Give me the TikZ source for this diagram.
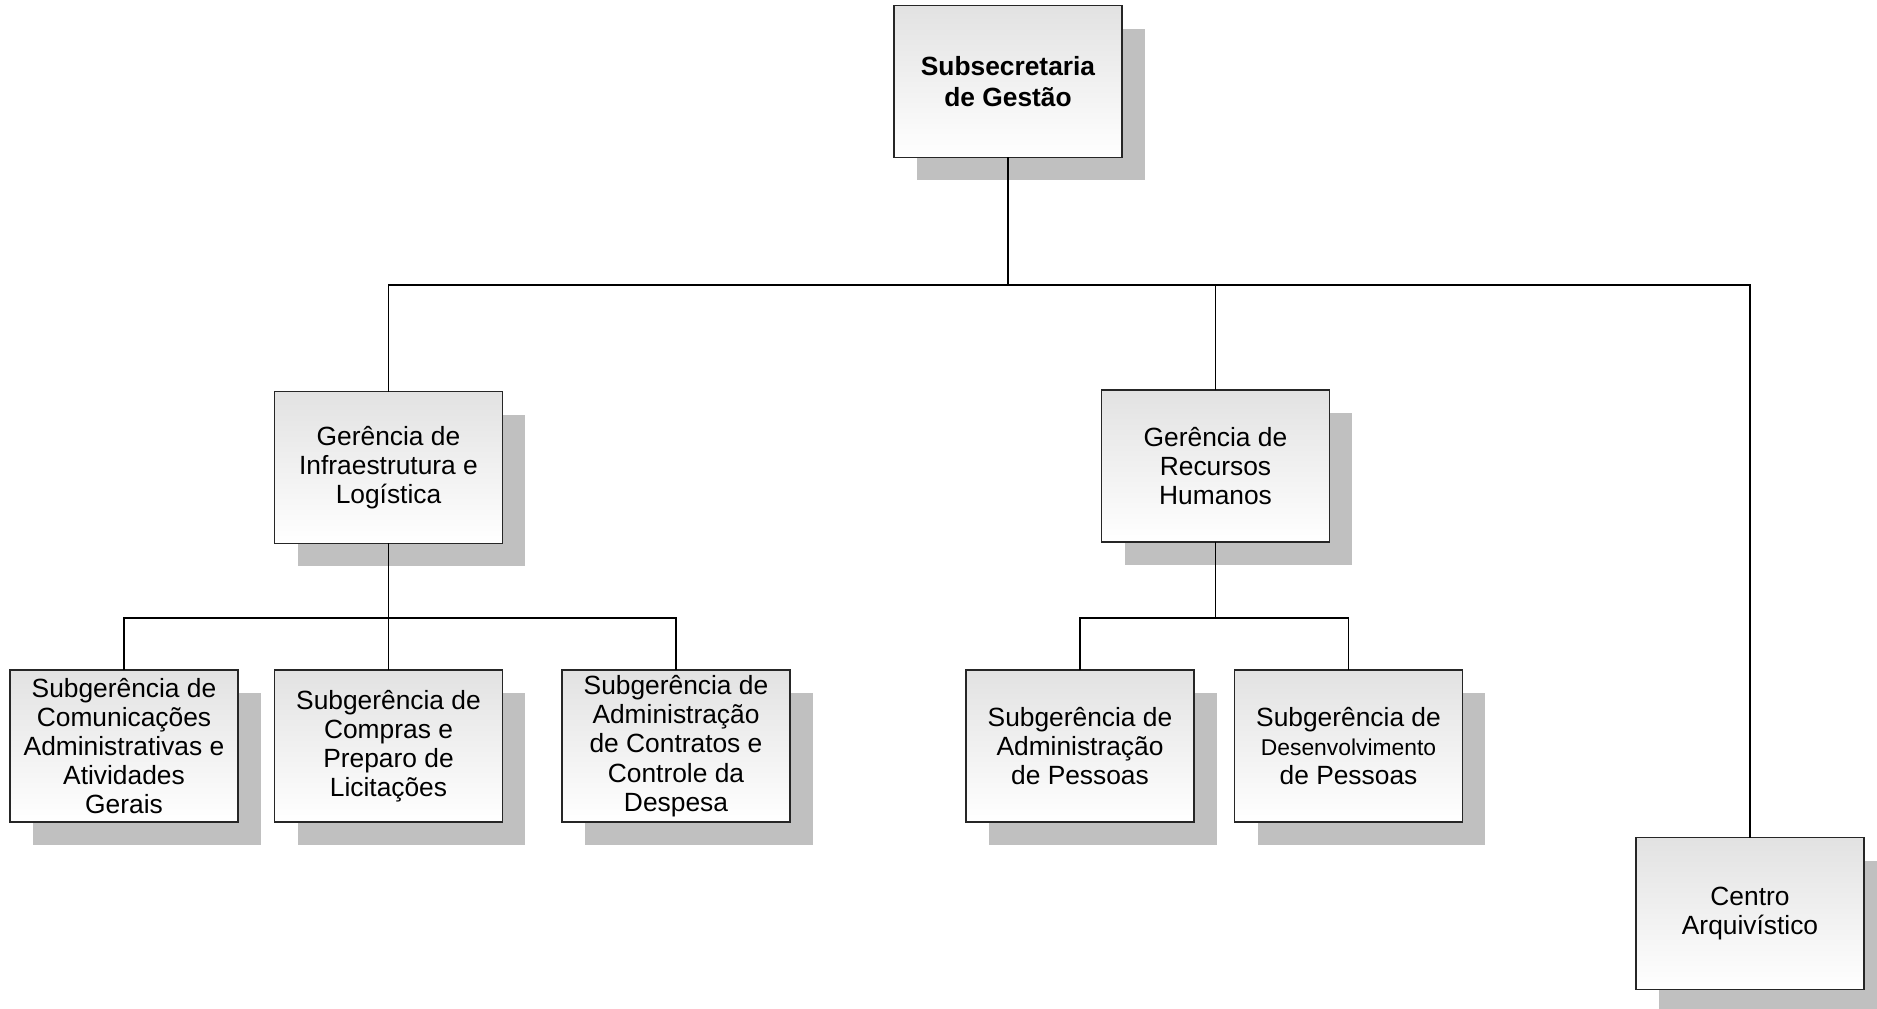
\documentclass[tikz,border=0pt]{standalone}
\usepackage{fontspec}
\setmainfont{Liberation Sans}
\usetikzlibrary{shadows}
\definecolor{boxtop}{RGB}{226,226,226}
\definecolor{shadowgray}{RGB}{192,192,192}
\begin{document}
\begin{tikzpicture}[x=0.02cm, y=-0.02cm, line width=0.6pt,
	unit/.style = {rectangle, draw=black!85, line width=0.8pt,
		minimum width = 4.56cm, minimum height = 3.04cm,
		inner sep = 0pt, outer sep = 0pt, align = center,
		top color = boxtop, bottom color = white,
		font = \fontsize{15}{16.6}\selectfont,
		drop shadow = {shadow xshift=0.46cm, shadow yshift=-0.46cm,
			fill=shadowgray, opacity=1}},
	boss/.style = {unit, font = \fontsize{15}{17.5}\selectfont\bfseries}]

	\useasboundingbox (0,0) rectangle (1877,1008);

	\node[boss] (top) at (1008,81.5) {Subsecretaria\\de Gestão};

	\node[unit] (infra) at (388.5,467.5) {Gerência de\\Infraestrutura e\\Logística};
	\node[unit] (rh) at (1215.5,466) {Gerência de\\Recursos\\Humanos};
	\node[unit] (arq) at (1750,913.5) {Centro\\Arquivístico};

	\node[unit] (com) at (124,746) {Subgerência de\\Comunicações\\Administrativas e\\Atividades\\Gerais};
	\node[unit] (compras) at (388.5,746) {Subgerência de\\Compras e\\Preparo de\\Licitações};
	\node[unit] (contr) at (676,746) {Subgerência de\\Administração\\de Contratos e\\Controle da\\Despesa};
	\node[unit] (pess) at (1080,746) {Subgerência de\\Administração\\de Pessoas};
	\node[unit] (desenv) at (1348.5,746) {Subgerência de\\{\fontsize{13}{16.6}\selectfont Desenvolvimento}\\de Pessoas};

	\coordinate (bus) at (1008,285);
	\coordinate (businfra) at (388.5,618);
	\coordinate (busrh) at (1215.5,618);

	\draw (top.south) -- (bus);
	\draw (infra.north) |- (bus) -| (arq.north);
	\draw (rh.north) -- (rh.north |- bus);

	\draw (infra.south) -- (businfra);
	\draw (com.north) |- (businfra) -| (contr.north);
	\draw (compras.north) -- (businfra);

	\draw (rh.south) -- (busrh);
	\draw (pess.north) |- (busrh) -| (desenv.north);

\end{tikzpicture}
\end{document}
